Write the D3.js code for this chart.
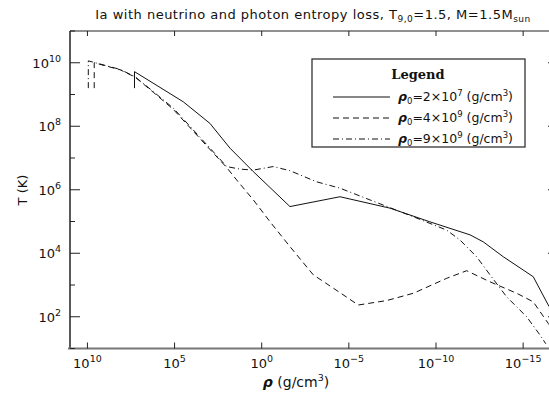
<!DOCTYPE html>
<html>
<head>
<meta charset="utf-8">
<script src="https://cdn.jsdelivr.net/npm/d3@7"></script>
<style>
  body { margin: 0; background: #fff; }
  svg { display: block; }
  text { font-family: "DejaVu Sans", "Liberation Sans", sans-serif; fill: #111; }
</style>
</head>
<body>
<div id="chart"></div>
<script>
// log10(rho) and log10(T)
const solidRho = [7.30, 7.30, 4.50, 2.97, 1.82, 0.48, -1.62, -4.49, -7.36, -9.65, -11.95, -12.71, -13.86, -15.58, -16.44, -17.0];
const solidT   = [9.20, 9.72, 8.77, 8.09, 7.31, 6.57, 5.47, 5.78, 5.42, 4.99, 4.58, 4.36, 3.89, 3.26, 2.37, 1.90];

const dashRho = [9.61, 9.61, 8.13, 7.27, 6.22, 5.07, 4.02, 2.97, 2.01, 1.44, 0.48, -0.48, -1.62, -2.96, -4.11, -5.54, -7.17, -8.70, -10.61, -11.76, -13.10, -14.63, -15.58, -16.44, -17.0];
const dashT   = [9.20, 10.0, 9.78, 9.55, 9.07, 8.53, 7.90, 7.27, 6.70, 6.31, 5.68, 4.99, 4.21, 3.32, 2.90, 2.37, 2.51, 2.74, 3.21, 3.45, 3.10, 2.74, 2.47, 1.79, 1.40];

const dotRho = [9.95, 9.95, 8.13, 7.27, 6.22, 5.07, 4.02, 2.97, 2.01, 1.25, 0.48, -0.66, -1.62, -3.15, -4.49, -6.21, -8.70, -10.61, -11.37, -12.33, -13.10, -14.05, -15.20, -15.96, -16.30];
const dotT   = [9.20, 10.06, 9.79, 9.56, 9.09, 8.57, 7.94, 7.31, 6.73, 6.65, 6.62, 6.73, 6.60, 6.25, 6.05, 5.68, 5.15, 4.73, 4.42, 3.89, 3.32, 2.63, 2.00, 1.43, 1.15];

const xTickExp = [10, 5, 0, -5, -10, -15];
const yTickExp = [2, 4, 6, 8, 10];
const yMinorExp = [1, 3, 5, 7, 9, 11];

const series = [
  { name: "2", exp: "7", rho: solidRho, t: solidT, dash: null },
  { name: "4", exp: "9", rho: dashRho, t: dashT, dash: "6,4" },
  { name: "9", exp: "9", rho: dotRho, t: dotT, dash: "6,3,1,3" },
];

const width = 549, height = 393;
const pLeft = 70, pRight = 558, pTop = 31, pBottom = 348.5;

const svg = d3.select("#chart").append("svg")
  .attr("width", width).attr("height", height);

const x = d3.scaleLog().domain([1e11, 1e-17]).range([pLeft, pRight]);
const y = d3.scaleLog().domain([1e1, 1e11]).range([pBottom, pTop]);

svg.append("clipPath").attr("id", "clip")
  .append("rect").attr("x", pLeft).attr("y", pTop)
  .attr("width", pRight - pLeft).attr("height", pBottom - pTop);

// curves
const line = d3.line()
  .x((d) => x(Math.pow(10, d[0])))
  .y((d) => y(Math.pow(10, d[1])));

series.forEach((s) => {
  const pts = s.rho.map((r, i) => [r, s.t[i]]);
  svg.append("path")
    .attr("clip-path", "url(#clip)")
    .attr("d", line(pts))
    .attr("fill", "none")
    .attr("stroke", "#111")
    .attr("stroke-width", 1)
    .attr("stroke-dasharray", s.dash);
});

// frame
svg.append("line").attr("x1", pLeft).attr("x2", pRight).attr("y1", pTop).attr("y2", pTop)
  .attr("stroke", "#222").attr("stroke-width", 1.2);
svg.append("line").attr("x1", pLeft).attr("x2", pLeft).attr("y1", pTop).attr("y2", pBottom)
  .attr("stroke", "#222").attr("stroke-width", 1.5);
svg.append("line").attr("x1", pRight).attr("x2", pRight).attr("y1", pTop).attr("y2", pBottom)
  .attr("stroke", "#222").attr("stroke-width", 1.5);
svg.append("line").attr("x1", pLeft - 2).attr("x2", pRight).attr("y1", pBottom).attr("y2", pBottom)
  .attr("stroke", "#777").attr("stroke-width", 2.2);

// x ticks (bottom and top)
xTickExp.forEach((e) => {
  const px = x(Math.pow(10, e));
  svg.append("line").attr("x1", px).attr("x2", px).attr("y1", pBottom).attr("y2", pBottom - 6)
    .attr("stroke", "#222");
  svg.append("line").attr("x1", px).attr("x2", px).attr("y1", pTop).attr("y2", pTop + 5)
    .attr("stroke", "#222");
  const t = svg.append("text").attr("x", px).attr("y", 368)
    .attr("text-anchor", "middle").style("font-size", "13px");
  t.append("tspan").text("10");
  t.append("tspan").attr("dy", -6).style("font-size", "9.5px").text(e === 0 ? "0" : String(e).replace("-", "\u2212"));
});

// y ticks (left and right)
yTickExp.forEach((e) => {
  const py = y(Math.pow(10, e));
  svg.append("line").attr("x1", pLeft).attr("x2", pLeft + 10).attr("y1", py).attr("y2", py)
    .attr("stroke", "#222");
  svg.append("line").attr("x1", pRight).attr("x2", pRight - 10).attr("y1", py).attr("y2", py)
    .attr("stroke", "#222");
  const t = svg.append("text").attr("x", 61).attr("y", py + 5)
    .attr("text-anchor", "end").style("font-size", "13px");
  t.append("tspan").text("10");
  t.append("tspan").attr("dy", -6).style("font-size", "9.5px").text(e);
});
yMinorExp.forEach((e) => {
  const py = y(Math.pow(10, e));
  svg.append("line").attr("x1", pLeft).attr("x2", pLeft + 5).attr("y1", py).attr("y2", py)
    .attr("stroke", "#222");
  svg.append("line").attr("x1", pRight).attr("x2", pRight - 5).attr("y1", py).attr("y2", py)
    .attr("stroke", "#222");
});

// title
const title = svg.append("text").attr("x", 313).attr("y", 19)
  .attr("text-anchor", "middle").style("font-size", "13px").style("letter-spacing", "0.5px");
title.append("tspan").text("Ia with neutrino and photon entropy loss, T");
title.append("tspan").attr("dy", 3).style("font-size", "9px").text("9,0");
title.append("tspan").attr("dy", -3).text("=1.5, M=1.5M");
title.append("tspan").attr("dy", 3).style("font-size", "9px").text("sun");

// axis labels
const xl = svg.append("text").attr("x", 296).attr("y", 387)
  .attr("text-anchor", "middle").style("font-size", "14px");
xl.append("tspan").style("font-weight", "bold").style("font-style", "italic").text("\u03c1");
xl.append("tspan").text(" (g/cm");
xl.append("tspan").attr("dy", -6).style("font-size", "9.5px").text("3");
xl.append("tspan").attr("dy", 6).text(")");

svg.append("text").attr("transform", "translate(27,190) rotate(-90)")
  .attr("text-anchor", "middle").style("font-size", "13px").text("T (K)");

// legend
const lg = svg.append("g");
lg.append("rect").attr("x", 312).attr("y", 59).attr("width", 213).attr("height", 88)
  .attr("fill", "#fff").attr("stroke", "#333").attr("stroke-width", 1.3);
lg.append("text").attr("x", 418).attr("y", 79).attr("text-anchor", "middle")
  .style("font-family", "'DejaVu Serif', 'Liberation Serif', serif")
  .style("font-weight", "bold").style("font-size", "13px").text("Legend");

series.forEach((s, i) => {
  const ly = 97 + i * 21;
  lg.append("line").attr("x1", 333).attr("x2", 390).attr("y1", ly).attr("y2", ly)
    .attr("stroke", "#111").attr("stroke-width", 1).attr("stroke-dasharray", s.dash);
  const t = lg.append("text").attr("x", 398).attr("y", ly + 4).style("font-size", "12.5px");
  t.append("tspan").style("font-weight", "bold").style("font-style", "italic").text("\u03c1");
  t.append("tspan").attr("dy", 3).style("font-size", "8.5px").text("0");
  t.append("tspan").attr("dy", -3).text("=" + s.name + "\u00d710");
  t.append("tspan").attr("dy", -5).style("font-size", "8.5px").text(s.exp);
  t.append("tspan").attr("dy", 5).text(" (g/cm");
  t.append("tspan").attr("dy", -5).style("font-size", "8.5px").text("3");
  t.append("tspan").attr("dy", 5).text(")");
});
</script>
</body>
</html>
